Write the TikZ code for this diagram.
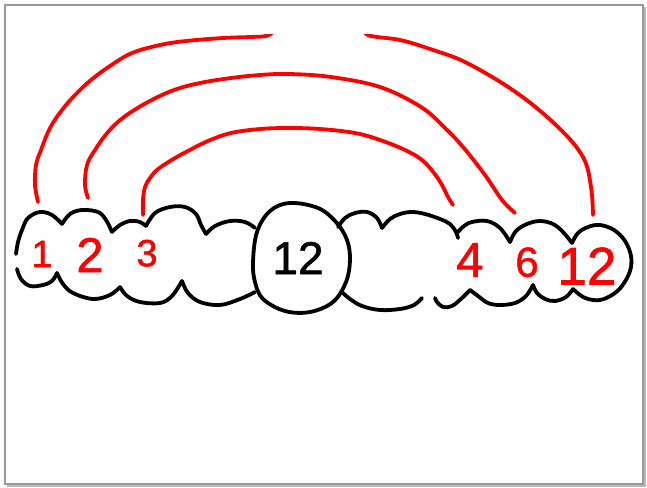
\documentclass[tikz,border=0pt]{standalone}
\usepackage{fontspec}
\setmainfont{Liberation Sans}
\newfontfamily\handfont[FakeBold=1.2]{Liberation Sans}
\begin{document}
\begin{tikzpicture}[x=1pt,y=-1pt,
  outline/.style={line width=3.8pt, line cap=round, line join=round, black},
  redarc/.style={line width=3.8pt, line cap=round, line join=round, red},
  num/.style={inner sep=0pt, text depth=0pt, red, font=\handfont},
  frameline/.style={line width=1.4pt, gray!80},
  shadowline/.style={line width=1.6pt, gray!55}
]
\useasboundingbox (0,0) rectangle (647,487);
% frame
\draw[shadowline] (7,486) -- (645,486) -- (645,7);
\draw[frameline] (5,5) rectangle (643,484);

% numbers
\node[num] (n1) at (42,254) {\fontsize{38}{38}\selectfont 1};
\node[num] (n2) at (90,255) {\fontsize{49}{49}\selectfont 2};
\node[num] (n3) at (147,253) {\fontsize{38}{38}\selectfont 3};
\node[num, black] (n12a) at (298,258) {\fontsize{46}{46}\selectfont 12};
\node[num] (n4) at (470,260) {\fontsize{49}{49}\selectfont 4};
\node[num] (n6) at (527,262) {\fontsize{42}{42}\selectfont 6};
\node[num] (n12b) at (587,266) {\fontsize{53}{53}\selectfont 12};

% cloud, left group, top
\draw[outline] plot[smooth, tension=0.6] coordinates {(16,254) (18,242) (22,230) (28,218) (40,212) (52,215) (62,224)};
\draw[outline] plot[smooth, tension=0.6] coordinates {(62,224) (70,214) (82,210) (98,212) (106,220) (112,232)};
\draw[outline] plot[smooth, tension=0.6] coordinates {(112,232) (120,225) (130,221) (140,222) (146,226)};
\draw[outline] plot[smooth, tension=0.6] coordinates {(146,226) (155,213) (170,207) (185,207) (196,214) (201,225) (206,234)};
\draw[outline] plot[smooth, tension=0.6] coordinates {(206,234) (215,226) (230,221) (245,222) (255,228)};
% left group, bottom
\draw[outline] plot[smooth, tension=0.6] coordinates {(17,269) (21,279) (30,286) (43,285) (52,281) (57,273)};
\draw[outline] plot[smooth, tension=0.6] coordinates {(57,273) (63,284) (73,293) (93,299) (110,295) (120,287)};
\draw[outline] plot[smooth, tension=0.6] coordinates {(120,287) (127,296) (140,302) (160,303) (172,296) (182,281)};
\draw[outline] plot[smooth, tension=0.6] coordinates {(182,281) (188,293) (200,302) (220,305) (240,299) (255,292)};
% middle circle
\draw[outline] plot[smooth cycle, tension=0.6] coordinates {(253,262) (257,232) (270,211) (290,203) (318,208) (336,222) (347,240) (350,260) (346,282) (333,302) (310,312) (285,311) (263,299) (255,282)};
% right group, top
\draw[outline] plot[smooth, tension=0.6] coordinates {(338,227) (345,218) (355,213) (367,212) (377,218) (382,228)};
\draw[outline] plot[smooth, tension=0.6] coordinates {(382,228) (390,219) (400,214) (412,212) (425,214) (440,219) (450,224) (456,232) (458,238)};
\draw[outline] plot[smooth, tension=0.6] coordinates {(458,232) (464,226) (472,222) (487,221) (500,228) (510,242)};
\draw[outline] plot[smooth, tension=0.6] coordinates {(510,242) (516,231) (527,224) (540,221) (553,224) (563,232) (572,243)};
\draw[outline] plot[smooth, tension=0.6] coordinates {(572,243) (578,233) (588,227) (600,225) (614,230) (625,241) (631,256) (630,271) (622,286) (612,295) (600,300) (588,299) (580,295) (573,289)};
% right group, bottom
\draw[outline] plot[smooth, tension=0.6] coordinates {(573,289) (566,297) (555,301) (545,299) (537,293) (533,285)};
\draw[outline] plot[smooth, tension=0.6] coordinates {(533,285) (526,296) (515,303) (500,305) (488,303) (478,296) (470,290)};
\draw[outline] plot[smooth, tension=0.6] coordinates {(470,290) (462,298) (452,306) (443,307) (437,302) (435,298)};
\draw[outline] plot[smooth, tension=0.6] coordinates {(422,298) (414,305) (400,309) (380,310) (362,306) (350,299) (343,293)};

% arc feet
\coordinate (a1) at (38,202);
\coordinate (b1) at (593,215);
\coordinate (a2) at (88,198);
\coordinate (b2) at (515,213);
\coordinate (a3) at (143,215);
\coordinate (b3) at (453,205);

% red arcs
\begin{scope}
\clip (0,35) rectangle (647,487);
\draw[redarc] plot[smooth, tension=0.6] coordinates {(a1) (35,185) (36,165) (41,150) (50,128) (62,110) (75,95) (91,80) (110,66) (132,53) (160,45) (186,41) (223,38) (250,37) (268,35.5) (285,27) (355,27) (369,35.5) (400,40) (430,49) (467,63) (517,93) (558,127) (583,157) (591,187) (b1)};
\end{scope}
\draw[redarc] plot[smooth, tension=0.6] coordinates {(a2) (85,185) (87,165) (95,150) (108,132) (124,117) (148,102) (174,90) (200,83) (231,78) (260,75) (289,74) (331,77) (380,87) (421,107) (445,128) (463,147) (485,175) (502,200) (b2)};
\draw[redarc] plot[smooth, tension=0.6] coordinates {(a3) (143,200) (145,187) (150,178) (157,170) (170,161) (186,152) (208,141) (231,133) (260,129) (289,128) (320,129) (355,133) (380,140) (405,150) (422,160) (434,173) (442,185) (448,197) (b3)};
\end{tikzpicture}
\end{document}
